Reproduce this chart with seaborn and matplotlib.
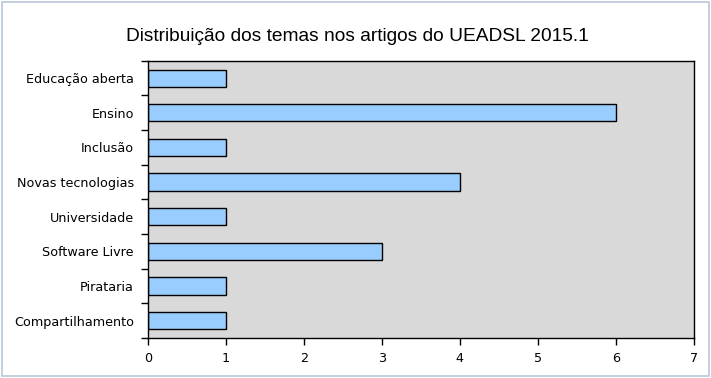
import numpy as np
import pandas as pd
import seaborn as sns
import matplotlib.pyplot as plt
from matplotlib.ticker import FixedLocator
from matplotlib.patches import Rectangle

temas = ["Educação aberta", "Ensino", "Inclusão", "Novas tecnologias",
         "Universidade", "Software Livre", "Pirataria", "Compartilhamento"]
artigos = [1, 6, 1, 4, 1, 3, 1, 1]

df = pd.DataFrame({"tema": temas, "artigos": artigos})

sns.set_style("white")
plt.rcParams["font.family"] = ["DejaVu Sans"]
plt.rcParams["text.color"] = "black"
plt.rcParams["xtick.color"] = "black"
plt.rcParams["ytick.color"] = "black"

fig = plt.figure(figsize=(7.11, 3.78), dpi=100)
ax = fig.add_axes([0.208, 0.106, 0.768, 0.733])

sns.barplot(data=df, x="artigos", y="tema", order=temas, orient="h",
            color="#99ccff", edgecolor="black", linewidth=1.0,
            width=0.5, saturation=1, ax=ax)

ax.set_facecolor("#d9d9d9")
ax.set_xlim(0, 7)
ax.set_ylim(len(temas) - 0.5, -0.5)
ax.set_xticks(range(0, 8))
ax.set_xlabel("")
ax.set_ylabel("")
for s in ax.spines.values():
    s.set_color("black")
    s.set_linewidth(1.0)

ax.tick_params(axis="y", which="both", left=True)
ax.tick_params(axis="x", which="both", bottom=True)
ax.tick_params(axis="y", which="major", length=0, pad=10, labelsize=9.2,
               labelcolor="black")
ax.yaxis.set_minor_locator(FixedLocator(np.arange(-0.5, len(temas), 1.0)))
ax.tick_params(axis="y", which="minor", length=5, width=1, direction="out",
               color="black")
ax.tick_params(axis="x", which="major", length=5, width=1, direction="out",
               labelsize=9.2, pad=5, color="black", labelcolor="black")

fig.suptitle("Distribuição dos temas nos artigos do UEADSL 2015.1",
             x=0.503, y=0.925, fontsize=13.8, color="black",
             family=["Liberation Sans", "DejaVu Sans"])

# moldura da imagem
fig.patches.append(Rectangle((0.003, 0.005), 0.994, 0.99, transform=fig.transFigure,
                             fill=False, edgecolor="#b8c8d8", linewidth=1.2))

fig.savefig("out.png", dpi=100)
